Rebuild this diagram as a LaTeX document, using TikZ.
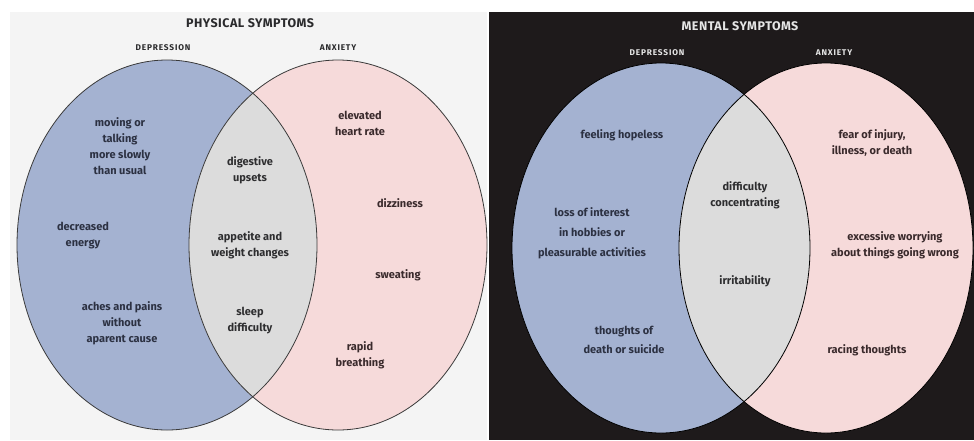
\documentclass[tikz,border=0pt]{standalone}
\usepackage{fontspec}
\setmainfont{Fira Sans}
\definecolor{lbg}{HTML}{F4F4F4}
\definecolor{dbg}{HTML}{1E1A1B}
\definecolor{blu}{HTML}{A4B2D1}
\definecolor{pnk}{HTML}{F6DADA}
\definecolor{lens}{HTML}{DCDCDC}
\definecolor{edge}{HTML}{3A3A3A}
\definecolor{txtb}{HTML}{2C3142}
\definecolor{txtp}{HTML}{3A2A2C}
\definecolor{txtg}{HTML}{2E2E30}
\definecolor{ttl}{HTML}{2A2A2C}
\definecolor{ttlw}{HTML}{E6E6E6}
\tikzset{
  lbl/.style={align=center,font=\fontsize{11}{16}\selectfont\bfseries,inner sep=0pt},
  title/.style={font=\fontsize{12.5}{14}\selectfont\bfseries\addfontfeatures{LetterSpace=4},inner sep=0pt},
  sub/.style={font=\fontsize{8.3}{9}\selectfont\bfseries\addfontfeatures{LetterSpace=10},inner sep=0pt},
  outline/.style={draw=edge,line width=0.8pt}
}
\begin{document}
\begin{tikzpicture}[x=1pt,y=-1pt]
\useasboundingbox (0,0) rectangle (974,440);
\fill[white] (0,0) rectangle (974,440);
% panels
\fill[lbg] (10,12) rectangle (487,440);
\fill[dbg] (489,12) rectangle (974,440);
% ---- left panel ellipses
\fill[blu] (167,245) ellipse [x radius=150,y radius=185];
\fill[pnk] (338,245) ellipse [x radius=149,y radius=185];
\begin{scope}
  \clip (167,245) ellipse [x radius=150,y radius=185];
  \fill[lens] (338,245) ellipse [x radius=149,y radius=185];
\end{scope}
\draw[outline] (167,245) ellipse [x radius=150,y radius=185];
\draw[outline] (338,245) ellipse [x radius=149,y radius=185];
% ---- right panel ellipses
\fill[blu] (661,248) ellipse [x radius=149,y radius=185];
\fill[pnk] (826,248) ellipse [x radius=147,y radius=185];
\begin{scope}
  \clip (661,248) ellipse [x radius=149,y radius=185];
  \fill[lens] (826,248) ellipse [x radius=147,y radius=185];
\end{scope}
\draw[outline,draw=black] (661,248) ellipse [x radius=149,y radius=185];
\draw[outline,draw=black] (826,248) ellipse [x radius=147,y radius=185];
% ---- titles
\node[title,text=ttl] (t1) at (250,23) {PHYSICAL SYMPTOMS};
\node[sub,text=ttl] (d1) at (163,48) {DEPRESSION};
\node[sub,text=ttl] (a1) at (338,48) {ANXIETY};
\node[title,text=ttlw] (t2) at (740,26) {MENTAL SYMPTOMS};
\node[sub,text=ttlw] (d2) at (657,53) {DEPRESSION};
\node[sub,text=ttlw] (a2) at (834,53) {ANXIETY};
% ---- left texts
\node[lbl,text=txtb] (p1) at (120,146) {moving or\\talking\\more slowly\\than usual};
\node[lbl,text=txtb] (p2) at (83,236) {decreased\\energy};
\node[lbl,text=txtb] (p3) at (122,323) {aches and pains\\without\\aparent cause};
\node[lbl,text=txtg] (p4) at (250,170) {digestive\\upsets};
\node[lbl,text=txtg] (p5) at (250,245) {appetite and\\weight changes};
\node[lbl,text=txtg] (p6) at (250,321) {sleep\\difficulty};
\node[lbl,text=txtp] (p7) at (360,123) {elevated\\heart rate};
\node[lbl,text=txtp] (p8) at (400,203) {dizziness};
\node[lbl,text=txtp] (p9) at (398,275) {sweating};
\node[lbl,text=txtp] (p10) at (360,355) {rapid\\breathing};
% ---- right texts
\node[lbl,text=txtb] (m1) at (622,135) {feeling hopeless};
\node[lbl,text=txtb,font=\fontsize{11}{20}\selectfont\bfseries] (m2) at (592,233) {loss of interest\\in hobbies or\\pleasurable activities};
\node[lbl,text=txtb,font=\fontsize{11}{19}\selectfont\bfseries] (m3) at (624,340) {thoughts of\\death or suicide};
\node[lbl,text=txtg] (m4) at (745,195) {difficulty\\concentrating};
\node[lbl,text=txtg] (m5) at (745,281) {irritability};
\node[lbl,text=txtp] (m6) at (872,143) {fear of injury,\\illness, or death};
\node[lbl,text=txtp] (m7) at (895,245) {excessive worrying\\about things going wrong};
\node[lbl,text=txtp] (m8) at (867,350) {racing thoughts};
\end{tikzpicture}
\end{document}
